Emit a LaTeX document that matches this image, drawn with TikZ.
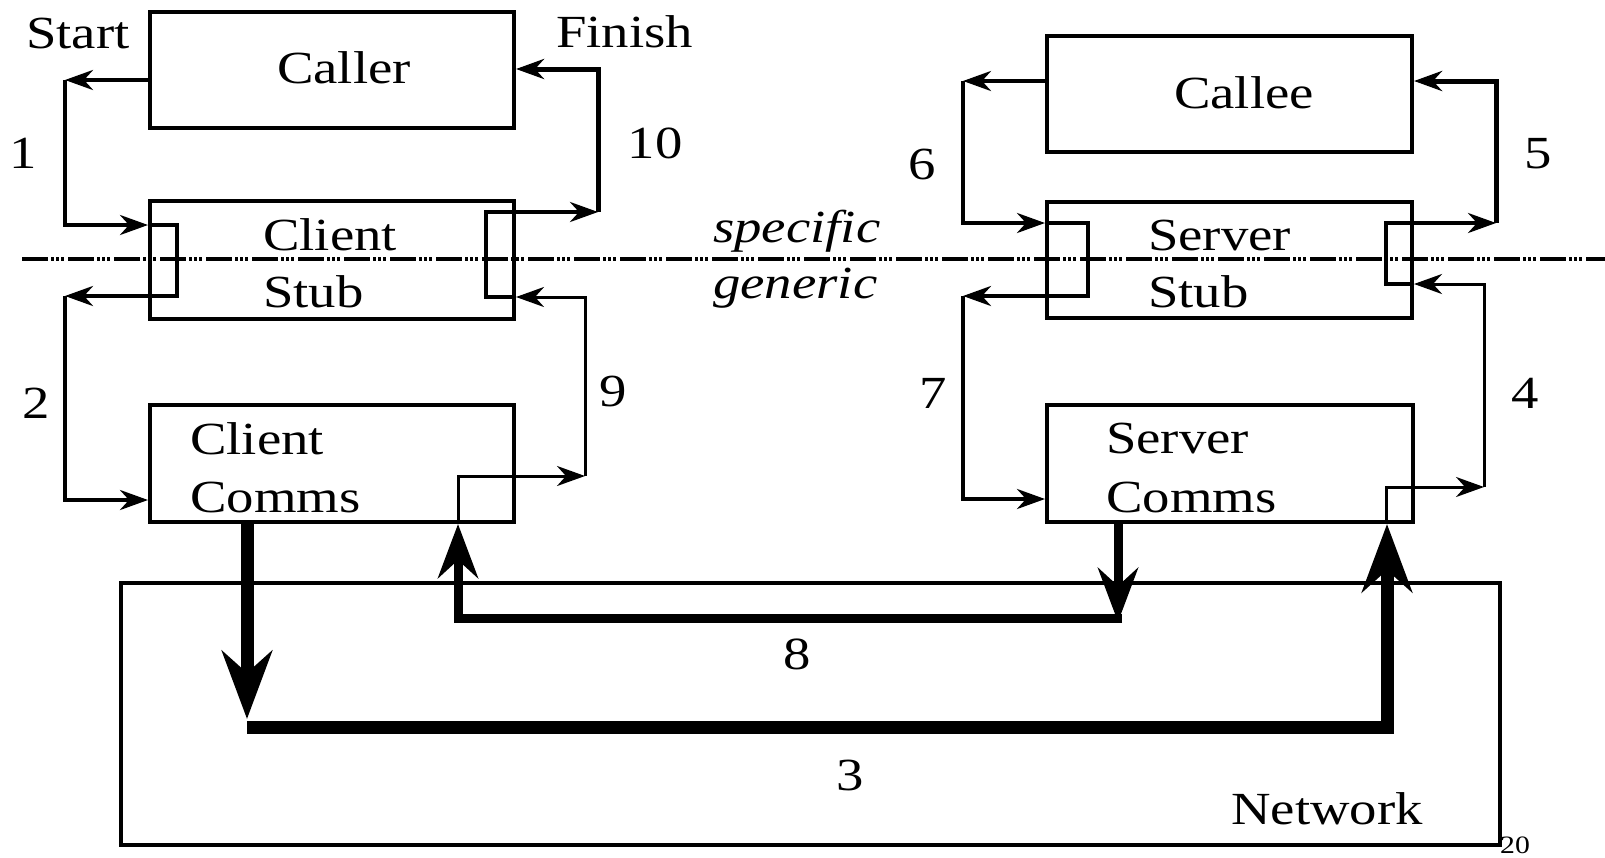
\documentclass[tikz,border=0pt]{standalone}
\usepackage{fontspec}
\setmainfont{Liberation Serif}[FakeStretch=1.19]
\usetikzlibrary{arrows.meta}
\begin{document}
\begin{tikzpicture}[x=1pt,y=-1pt,
  box/.style={draw, rectangle, line width=4pt, inner sep=0pt},
  lbl/.style={anchor=base west, inner sep=0pt, font=\fontsize{46}{55}\selectfont},
  num/.style={anchor=base, inner sep=0pt, font=\fontsize{46}{55}\selectfont},
  flow/.style={line width=4pt, line join=miter,
    -{Stealth[length=28pt,width=20pt,inset=9pt]}},
  flowthin/.style={flow, line width=3pt},
  flowbold/.style={flow, line width=5pt},
  netmsg/.style={line width=9pt, line join=miter,
    -{Stealth[length=54pt,width=40pt,inset=18pt]}},
  netcall/.style={line width=13pt, line join=miter,
    -{Stealth[length=68pt,width=50pt,inset=22pt]}},
  layer/.style={line width=4pt,
    dash pattern=on 26pt off 3pt on 2.5pt off 2.5pt on 2.5pt off 2.5pt on 2.5pt off 4.5pt}
]
\useasboundingbox (0,0) rectangle (1605,857);

% boxes
\node[box, minimum width=364pt, minimum height=116pt] (caller) at (332,70) {};
\node[box, minimum width=364pt, minimum height=118pt] (cstub)  at (332,260) {};
\node[box, minimum width=364pt, minimum height=117pt] (ccomms) at (332,463.5) {};
\node[box, minimum width=365pt, minimum height=116pt] (callee) at (1229.5,94) {};
\node[box, minimum width=365pt, minimum height=116pt] (sstub)  at (1229.5,260) {};
\node[box, minimum width=366pt, minimum height=117pt] (scomms) at (1230,463.5) {};
\node[box, minimum width=1379pt, minimum height=262pt] (network) at (810.5,714) {};

% specific / generic boundary
\coordinate (layerL) at (22,259);
\coordinate (layerR) at (1605,259);
\draw[layer] (layerL) -- (layerR);

% box texts
\node[num] (tcaller) at (344,83) {Caller};
\node[num] (tcallee) at (1244,108) {Callee};
\node[lbl] (tcs1) at (263,250) {Client};
\node[lbl] (tcs2) at (263,307) {Stub};
\node[lbl] (tss1) at (1148,250) {Server};
\node[lbl] (tss2) at (1148,307) {Stub};
\node[lbl] (tcc1) at (190,454) {Client};
\node[lbl] (tcc2) at (190,512) {Comms};
\node[lbl] (tsc1) at (1106,453) {Server};
\node[lbl] (tsc2) at (1106,512) {Comms};
\node[lbl] (tnet) at (1231,824) {Network};
\node[lbl] (tstart) at (26,48) {Start};
\node[lbl] (tfinish) at (556,47) {Finish};
\node[lbl, font=\fontsize{46}{55}\selectfont\itshape] (tspec) at (713,242) {specific};
\node[lbl, font=\fontsize{46}{55}\selectfont\itshape] (tgen) at (713,298) {generic};

% step numbers
\node[num] (n1) at (23,168) {1};
\node[num] (n2) at (36,418) {2};
\node[num] (n3) at (850,790) {3};
\node[num] (n4) at (1525,408) {4};
\node[num] (n5) at (1538,168) {5};
\node[num] (n6) at (922,179) {6};
\node[num] (n7) at (933,408) {7};
\node[num] (n8) at (797,669) {8};
\node[num] (n9) at (613,406) {9};
\node[num] (n10) at (655,158) {10};
\node[anchor=base, inner sep=0pt, font=\fontsize{25}{28}\selectfont] (pg) at (1515,853) {20};

% client side: calls 1, 2
\coordinate (a1) at (65,80);
\coordinate (a2) at (65,225);
\coordinate (a3) at (177,225);
\coordinate (a4) at (177,296);
\coordinate (a5) at (65,296);
\coordinate (a6) at (65,500);
\draw[flow] (caller.west |- a1) -- (a1);
\draw[flow] (a1) -- (a2) -- (cstub.west |- a2);
\draw[flow] (cstub.west |- a2) -- (a3) -- (a4) -- (a5);
\draw[flow] (a5) -- (a6) -- (ccomms.west |- a6);

% client side: returns 9, 10
\coordinate (b1) at (458,476);
\coordinate (b2) at (585,476);
\coordinate (b3) at (585,297);
\coordinate (b4) at (486,297);
\coordinate (b5) at (486,212);
\coordinate (b6) at (598,212);
\coordinate (b7) at (598,69);
\draw[flowthin] (ccomms.south -| b1) -- (b1) -- (b2);
\draw[flowthin] (b2) -- (b3) -- (cstub.east |- b3);
\draw[flow] (cstub.east |- b3) -- (b4) -- (b5) -- (b6);
\draw[flowbold] (b6) -- (b7) -- (caller.east |- b7);

% server side: returns 6, 7
\coordinate (c1) at (963,81);
\coordinate (c2) at (963,223);
\coordinate (c3) at (1088,223);
\coordinate (c4) at (1088,296);
\coordinate (c5) at (963,296);
\coordinate (c6) at (963,499);
\draw[flow] (callee.west |- c1) -- (c1);
\draw[flow] (c1) -- (c2) -- (sstub.west |- c2);
\draw[flow] (sstub.west |- c2) -- (c3) -- (c4) -- (c5);
\draw[flow] (c5) -- (c6) -- (scomms.west |- c6);

% server side: calls 4, 5
\coordinate (d1) at (1386,487);
\coordinate (d2) at (1484,487);
\coordinate (d3) at (1484,284);
\coordinate (d4) at (1386,284);
\coordinate (d5) at (1386,223);
\coordinate (d6) at (1496,223);
\coordinate (d7) at (1496,81);
\draw[flowthin] (scomms.south -| d1) -- (d1) -- (d2);
\draw[flowthin] (d2) -- (d3) -- (sstub.east |- d3);
\draw[flow] (sstub.east |- d3) -- (d4) -- (d5) -- (d6);
\draw[flowbold] (d6) -- (d7) -- (callee.east |- d7);

% network: request 3
\coordinate (r1) at (247,719);
\coordinate (r2) at (247,727);
\coordinate (r3) at (1387,727);
\draw[netcall] (ccomms.south -| r1) -- (r1);
\draw[netcall] (r2) -- (r3) -- (scomms.south -| r3);

% network: reply 8
\coordinate (m1) at (1118,622);
\coordinate (m2) at (1122,618);
\coordinate (m3) at (458,618);
\draw[netmsg] (scomms.south -| m1) -- (m1);
\draw[netmsg] (m2) -- (m3) -- (ccomms.south -| m3);
\end{tikzpicture}
\end{document}
